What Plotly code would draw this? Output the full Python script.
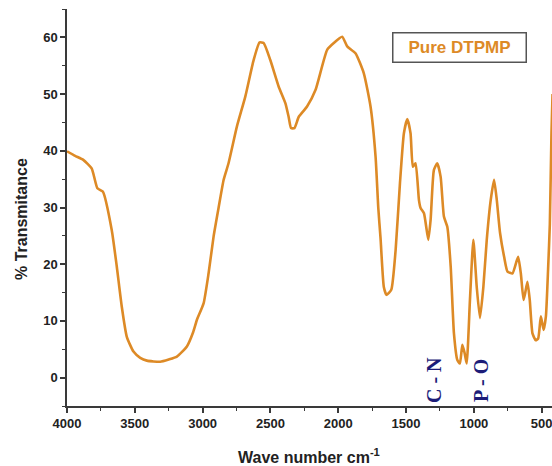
import plotly.graph_objects as go

wavenumber = [4000, 3940, 3880, 3818, 3776, 3736, 3670, 3633, 3596, 3559, 3510, 3460, 3411, 3313,
              3250, 3190, 3116, 3070, 3042, 2993, 2956, 2919, 2882, 2845, 2809, 2747, 2685, 2624,
              2580, 2550, 2501, 2439, 2390, 2366, 2348, 2323, 2291, 2230, 2168, 2082, 2033, 1971,
              1934, 1873, 1812, 1762, 1725, 1705, 1688, 1664, 1644, 1609, 1577, 1545, 1516, 1491,
              1467, 1450, 1430, 1405, 1393, 1368, 1336, 1319, 1295, 1270, 1245, 1221, 1196, 1171,
              1147, 1122, 1103, 1085, 1068, 1053, 1029, 1004, 979, 955, 930, 905, 876, 851, 831,
              807, 777, 752, 715, 674, 654, 634, 622, 605, 588, 568, 544, 526, 506, 486, 469, 452,
              440, 428, 420]
transmittance = [39.9, 39.1, 38.4, 36.9, 33.4, 32.8, 26.0, 19.6, 12.5, 7.2, 4.6, 3.5, 3.0, 2.8,
                 3.2, 3.7, 5.5, 8.0, 10.2, 13.1, 18.4, 24.9, 30.0, 34.9, 37.8, 44.3, 49.6, 56.0,
                 59.1, 59.0, 56.0, 51.3, 48.4, 46.0, 44.0, 44.0, 46.0, 47.8, 50.7, 57.8, 59.0, 60.1,
                 58.4, 57.2, 53.7, 47.8, 39.0, 30.0, 24.5, 16.0, 14.6, 15.5, 22.5, 34.3, 43.1, 45.6,
                 43.1, 37.2, 37.8, 31.3, 29.9, 29.0, 24.3, 27.8, 36.6, 37.8, 35.4, 28.4, 26.6, 19.6,
                 7.8, 3.1, 2.5, 5.8, 4.3, 2.5, 13.7, 24.3, 16.0, 10.5, 16.0, 24.3, 31.3, 34.9, 31.3,
                 25.5, 21.3, 18.7, 18.4, 21.3, 18.4, 13.7, 14.9, 16.9, 13.7, 7.8, 6.6, 6.9, 10.8, 8.4,
                 10.8, 19.6, 27.0, 43.0, 50.0]

x_ticks = [4000, 3500, 3000, 2500, 2000, 1500, 1000, 500]
y_ticks = [0, 10, 20, 30, 40, 50, 60]
series_name = "Pure DTPMP"
peak_labels = ["C - N", "P - O"]

W, H = 552, 466
L, R, T, B = 67, 0, 9, 60
pw, ph = W - L - R, H - T - B


def px(x):
    return (x - L) / pw


def py(y):
    return (H - B - y) / ph


orange = "#DD8A26"
axis_col = "#3a3a3a"
tick_font = dict(family="Liberation Sans, Arial, sans-serif", size=13, color="#222", weight="bold")

fig = go.Figure()
fig.add_trace(go.Scatter(x=wavenumber, y=transmittance, mode="lines", name=series_name,
                         line=dict(color=orange, width=2.6, shape="spline", smoothing=0.5),
                         showlegend=False))

fig.update_layout(
    width=W, height=H,
    margin=dict(l=L, r=R, t=T, b=B, pad=0),
    paper_bgcolor="white", plot_bgcolor="white",
    xaxis=dict(range=[4000, 424], tickvals=x_ticks, ticktext=[str(v) for v in x_ticks],
               showgrid=False, zeroline=False, showline=True, linecolor=axis_col, linewidth=1.5,
               ticks="outside", ticklen=5, tickwidth=1.5, tickcolor=axis_col, tickfont=tick_font,
               ticklabeloverflow="allow",
               minor=dict(dtick=250, tick0=0, ticks="outside", ticklen=3, tickwidth=1.2, tickcolor=axis_col)),
    yaxis=dict(range=[-5, 65], tickvals=y_ticks, ticktext=[str(v) for v in y_ticks],
               showgrid=False, zeroline=False, showline=True, linecolor=axis_col, linewidth=1.5,
               ticks="outside", ticklen=5, tickwidth=1.5, tickcolor=axis_col, tickfont=tick_font,
               minor=dict(dtick=5, tick0=0, ticks="outside", ticklen=3, tickwidth=1.2, tickcolor=axis_col)),
)

common = dict(xref="paper", yref="paper", showarrow=False, xanchor="center", yanchor="middle")
fig.add_annotation(x=px(21), y=py(219), text="% Transmitance", textangle=-90,
                   font=dict(family="Liberation Sans, Arial, sans-serif", size=16, color="#222", weight="bold"),
                   **common)
fig.add_annotation(x=px(309), y=py(456), text="Wave number cm<sup>-1</sup>",
                   font=dict(family="Liberation Sans, Arial, sans-serif", size=16, color="#222", weight="bold"),
                   **common)
fig.add_annotation(x=px(459), y=py(47), text=series_name,
                   width=130, height=26, borderwidth=1.5, bordercolor="#555", borderpad=1, bgcolor="white",
                   font=dict(family="Liberation Sans, Arial, sans-serif", size=17, color=orange, weight="bold"),
                   **common)
fig.add_annotation(x=px(434), y=py(380), text=peak_labels[0], textangle=-90,
                   font=dict(family="Liberation Serif, Times New Roman, serif", size=20, color="#1c1c78", weight="bold"),
                   **common)
fig.add_annotation(x=px(481), y=py(381), text=peak_labels[1], textangle=-90,
                   font=dict(family="Liberation Serif, Times New Roman, serif", size=20, color="#1c1c78", weight="bold"),
                   **common)

fig.write_html("out.html")
